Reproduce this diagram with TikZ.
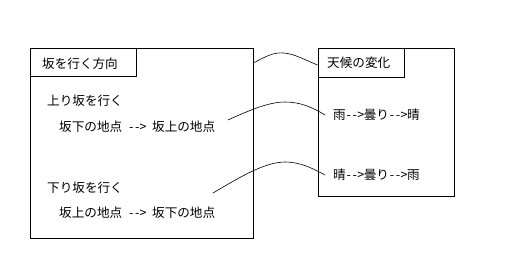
\documentclass[tikz,border=0pt]{standalone}
\usepackage{fontspec}
\setmainfont{Noto Sans CJK JP}
\newcommand{\hw}[1]{\makebox[6pt]{#1}}
\newcommand{\arw}{\hw{-}\hw{-}\hw{>}}
\begin{document}
\begin{tikzpicture}[x=1pt,y=-1pt,
  frame/.style={draw,line width=0.8pt,rectangle,inner sep=0pt,anchor=north west},
  lbl/.style={inner sep=0pt,anchor=west,font=\fontsize{12.6}{14}\selectfont},
  wave/.style={line width=0.6pt}]
\useasboundingbox (0,0) rectangle (510,275);
% left box
\node[frame,minimum width=223pt,minimum height=189pt] (L) at (29.5,48.5) {};
\node[frame,minimum width=106pt,minimum height=28pt] (LH) at (29.5,48.5) {};
\node[lbl] (t1) at (42,64) {坂を行く方向};
\node[lbl] (t2) at (47,101) {上り坂を行く};
\node[lbl] (t3) at (59,127) {坂下の地点\hw{}\arw\hw{}坂上の地点};
\node[lbl] (t4) at (47,188) {下り坂を行く};
\node[lbl] (t5) at (59,213) {坂上の地点\hw{}\arw\hw{}坂下の地点};
% right box
\node[frame,minimum width=136pt,minimum height=147pt] (R) at (317.5,48.5) {};
\node[frame,minimum width=86pt,minimum height=29pt] (RH) at (317.5,48.5) {};
\node[lbl] (r1) at (327,63) {天候の変化};
\node[lbl] (r2) at (333,115) {雨\arw 曇り\arw 晴};
\node[lbl] (r3) at (333,175) {晴\arw 曇り\arw 雨};
% connectors
\coordinate (a1) at (L.east |- 0,63);
\coordinate (b1) at (R.west |- 0,65);
\coordinate (a2) at (228,120);
\coordinate (b2) at ([xshift=-8pt]r2.west);
\coordinate (a3) at (213,193);
\coordinate (b3) at ([xshift=-8pt]r3.west);
\draw[wave] (a1) .. controls (265,57) and (273,52) .. (284,53)
  .. controls (295,54) and (305,60) .. (b1);
\draw[wave] (a2) .. controls (248,111) and (268,102) .. (285,102)
  .. controls (300,102) and (312,107) .. (b2);
\draw[wave] (a3) .. controls (240,177) and (265,162) .. (285,162)
  .. controls (300,162) and (312,168) .. (b3);
\end{tikzpicture}
\end{document}
